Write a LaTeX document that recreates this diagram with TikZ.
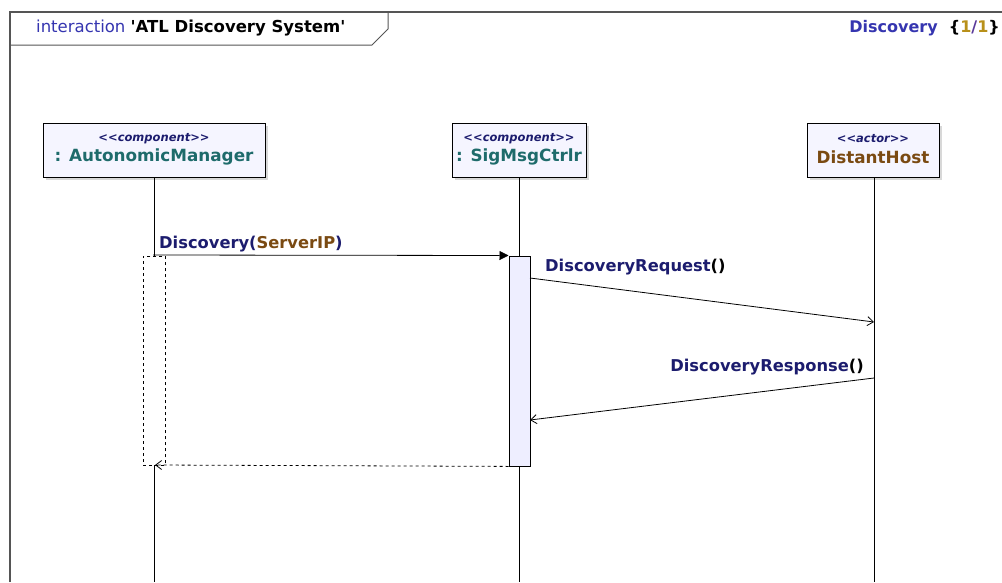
\documentclass[tikz,border=0pt]{standalone}
\usepackage{fontspec}
\setmainfont{DejaVu Sans}[Ligatures=TeXOff]
\usetikzlibrary{arrows.meta,shadows}
\definecolor{navy}{HTML}{1C1C6E}
\definecolor{kwblue}{HTML}{3535B0}
\definecolor{teal2}{HTML}{1E6B6B}
\definecolor{brown2}{HTML}{7A4A12}
\definecolor{gold2}{HTML}{B8901A}
\definecolor{slashc}{HTML}{5A3A9A}
\definecolor{framec}{HTML}{555555}
\definecolor{boxfill}{HTML}{F5F5FF}
\definecolor{actfill}{HTML}{EEEEFF}
\begin{document}
\begin{tikzpicture}[x=1pt,y=-1pt,
  lifebox/.style={draw=black, line width=0.9pt, fill=boxfill, inner sep=0pt,
    drop shadow={shadow xshift=3pt, shadow yshift=-3pt, fill=black!25, opacity=0.6}},
  stereo/.style={font=\fontsize{11.5}{12}\bfseries\itshape\selectfont, text=navy, inner sep=0pt},
  lname/.style={font=\fontsize{16.8}{18}\bfseries\selectfont, inner sep=0pt},
  msglabel/.style={font=\fontsize{16.3}{18}\bfseries\selectfont, text=navy, inner sep=0pt},
  lifeline/.style={draw=black, line width=0.8pt},
  actbar/.style={draw=black, line width=0.9pt, fill=actfill, inner sep=0pt},
  msg/.style={draw=black, line width=0.8pt},
  opentip/.style={-{Straight Barb[length=6pt,width=9pt]}},
  filledtip/.style={-{Triangle[length=9pt,width=9pt]}},
]
\useasboundingbox (0,0) rectangle (1002,582);
\fill[white] (0,0) rectangle (1002,582);

% frame
\draw[framec, line width=1.5pt] (10,582) -- (10,12) -- (1002,12);
\draw[framec, line width=1pt] (10,45) -- (372,45) -- (388,29) -- (388,12);
\node[anchor=west, font=\fontsize{16.5}{18}\selectfont, inner sep=0pt] (title) at (36,28)
  {\textcolor{kwblue}{interaction} \textbf{'ATL Discovery System'}};
\node[anchor=east, font=\fontsize{16}{18}\bfseries\selectfont, inner sep=0pt] (diagname) at (1000,28)
  {\textcolor{kwblue}{Discovery}\ \ \{\textcolor{gold2}{1}\textcolor{slashc}{/}\textcolor{gold2}{1}\}};

% lifeline heads
\node[lifebox, minimum width=222pt, minimum height=54pt] (am) at (154,150) {};
\node[stereo] (amst) at (154,139) {<<component>>};
\node[lname, text=teal2] (amnm) at (154,157) {: AutonomicManager};

\node[lifebox, minimum width=134pt, minimum height=54pt] (smc) at (519,150) {};
\node[stereo] (smcst) at (519,139) {<<component>>};
\node[lname, text=teal2] (smcnm) at (519,157) {: SigMsgCtrlr};

\node[lifebox, minimum width=132pt, minimum height=54pt] (dh) at (873,150) {};
\node[stereo] (dhst) at (873,139) {<<actor>>};
\node[lname, text=brown2] (dhnm) at (873,157) {DistantHost};

% lifelines
\coordinate (amend) at (154,582);
\coordinate (smcend) at (519,582);
\coordinate (dhend) at (874,582);
\draw[lifeline] (am.south) -- (amend);
\draw[lifeline] (smc.south) -- (smcend);
\draw[lifeline] (dh.south -| dhend) -- (dhend);

% activation bar
\node[actbar, minimum width=21pt, minimum height=210pt, anchor=north west] (act) at (508.5,255.5) {};
% dashed activation on AutonomicManager
\node[draw=black, fill=white, dashed, line width=0.8pt, minimum width=22pt, minimum height=209pt, anchor=north west, inner sep=0pt] (amact) at (143,256) {};

% messages
\coordinate (m1s) at (153,255);
\draw[msg, filledtip] (m1s) -- (act.north west);
\node[msglabel, anchor=south west] (m1l) at (159,252) {Discovery(\textcolor{brown2}{ServerIP})};

\coordinate (m2s) at (530,278);
\coordinate (m2e) at (874,322);
\draw[msg, opentip] (m2s) -- (m2e);
\node[msglabel, anchor=south west] (m2l) at (545,275) {DiscoveryRequest\textcolor{black}{()}};

\coordinate (m3s) at (874,378);
\coordinate (m3e) at (530,420);
\draw[msg, opentip] (m3s) -- (m3e);
\node[msglabel, anchor=south east] (m3l) at (864,375) {DiscoveryResponse\textcolor{black}{()}};

\coordinate (m4e) at (155,465);
\draw[msg, dashed, opentip] (act.south west) -- (m4e);
\end{tikzpicture}
\end{document}
